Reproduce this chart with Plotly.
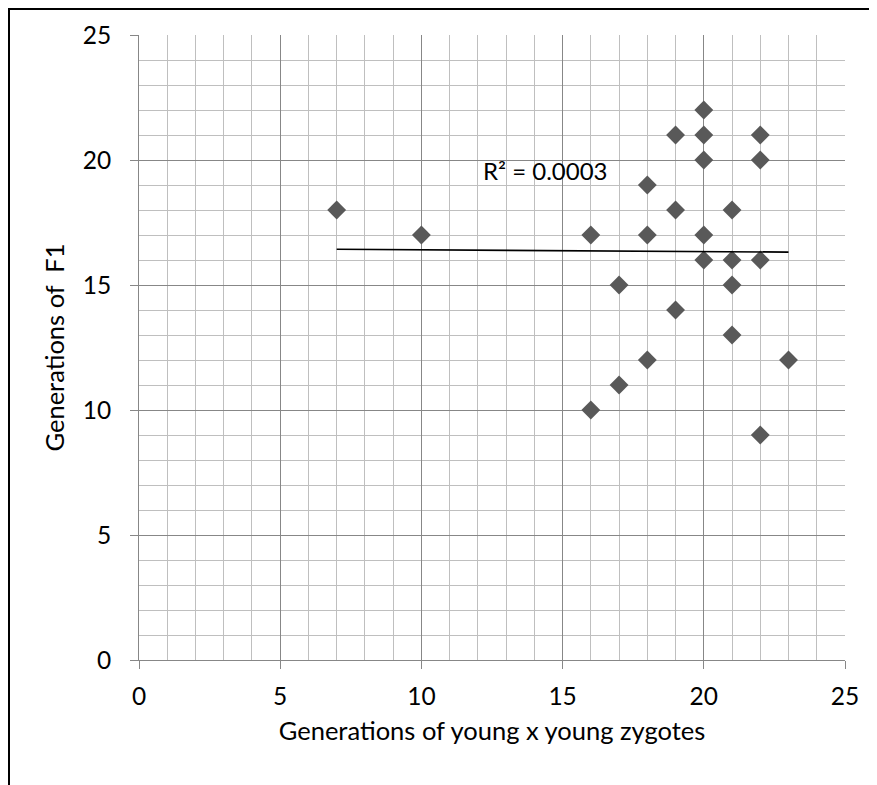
import numpy as np
import plotly.graph_objects as go

x_vals = [7, 10, 16, 16, 17, 17, 18, 18, 18, 19, 19, 19, 20, 20, 20, 20, 20,
          21, 21, 21, 21, 22, 22, 22, 22, 23]
y_vals = [18, 17, 17, 10, 15, 11, 19, 17, 12, 21, 18, 14, 22, 21, 20, 17, 16,
          18, 16, 15, 13, 21, 20, 16, 9, 12]
r2_label = "R² = 0.0003"
x_title = "Generations of young x young zygotes"
y_title = "Generations of  F1"

slope, intercept = np.polyfit(x_vals, y_vals, 1)
tx = [min(x_vals), max(x_vals)]
ty = [slope * v + intercept for v in tx]

font = "Lato, Open Sans, sans-serif"
TICK_FS = 24.5
TITLE_FS = 25.5

# figure is offset by the page body margin (8px); compensate
W, H = 869, 777
L, T, R, B = 131, 27, 32, 125
pw, ph = W - L - R, H - T - B

fig = go.Figure()
fig.add_trace(go.Scatter(x=x_vals, y=y_vals, mode="markers",
                         marker=dict(symbol="diamond", size=14.5, color="#595959",
                                     line=dict(width=0)),
                         showlegend=False, hoverinfo="skip"))
fig.add_trace(go.Scatter(x=tx, y=ty, mode="lines",
                         line=dict(color="black", width=1.6),
                         showlegend=False, hoverinfo="skip"))

axis_common = dict(
    range=[0, 25], dtick=5, showgrid=True, gridcolor="#878787", gridwidth=1,
    minor=dict(dtick=1, showgrid=True, gridcolor="#bfbfbf", gridwidth=1),
    ticks="outside", ticklen=8, tickcolor="#878787", tickwidth=1,
    showline=True, linecolor="#878787", linewidth=1, zeroline=False,
    tickfont=dict(family=font, size=TICK_FS, color="black"),
    mirror=False,
)

fig.update_layout(
    width=W, height=H,
    margin=dict(l=L, r=R, t=T, b=B),
    paper_bgcolor="white", plot_bgcolor="white",
    font=dict(family=font, color="black"),
    xaxis=dict(**axis_common, ticklabelstandoff=7,
               title=dict(text=x_title, font=dict(family=font, size=TITLE_FS), standoff=12)),
    yaxis=dict(**axis_common, ticklabelstandoff=14,
               title=dict(text=y_title, font=dict(family=font, size=TITLE_FS), standoff=10)),
    annotations=[dict(x=12.1, y=19.6, xref="x", yref="y", text=r2_label,
                      showarrow=False, xanchor="left", yanchor="middle",
                      font=dict(family=font, size=24, color="black"))],
    shapes=[
        dict(type="line", xref="paper", yref="paper", x0=-L / pw, x1=1 + (R - 0.5) / pw,
             y0=1 + (T - 1) / ph, y1=1 + (T - 1) / ph, line=dict(color="black", width=2)),
        dict(type="line", xref="paper", yref="paper", x0=-(L - 1) / pw, x1=-(L - 1) / pw,
             y0=1 + (T - 1) / ph, y1=-B / ph, line=dict(color="black", width=2)),
    ],
)

fig.write_html("out.html")
